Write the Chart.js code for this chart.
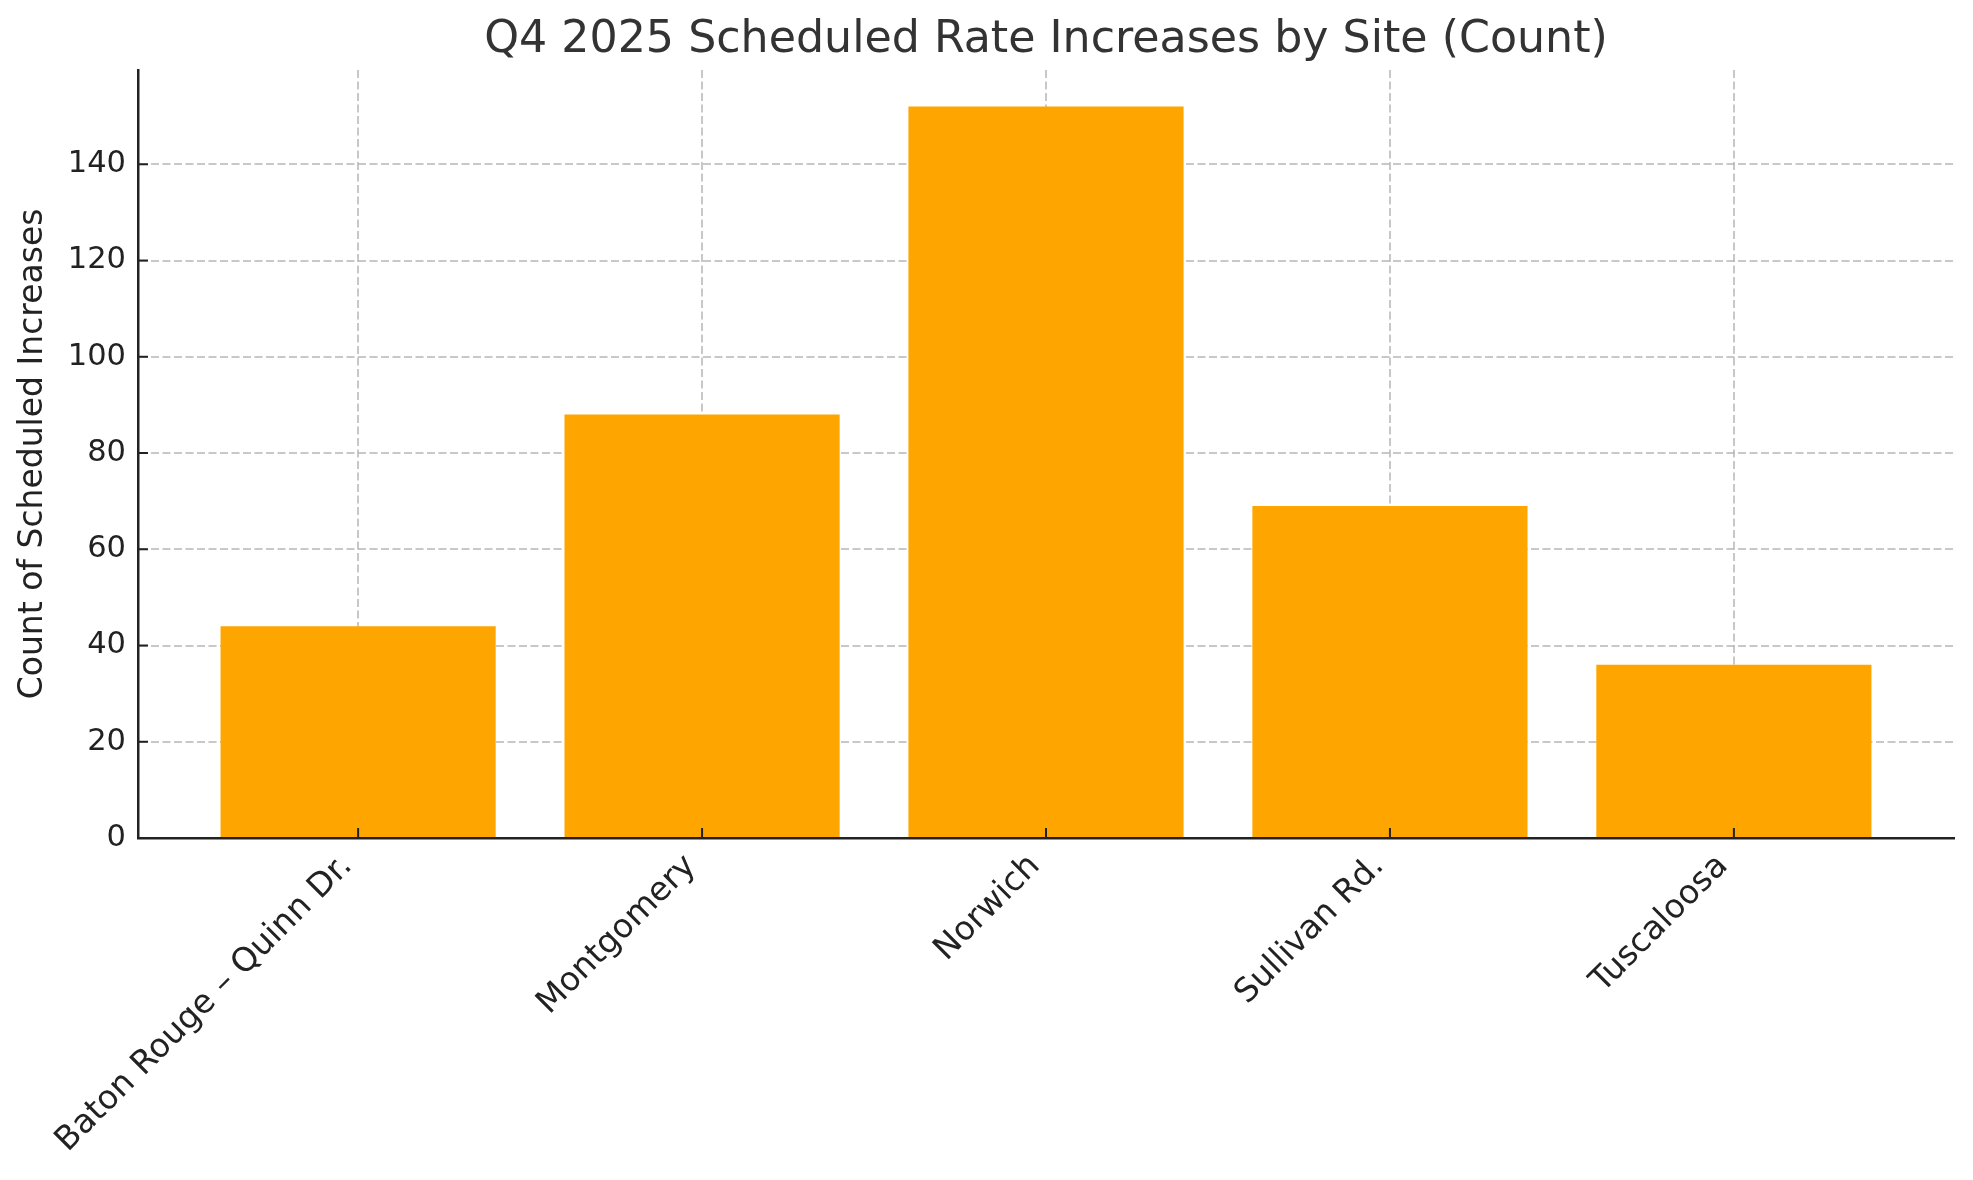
<!DOCTYPE html>
<html>
<head>
<meta charset="utf-8">
<script src="https://cdn.jsdelivr.net/npm/chart.js@4/dist/chart.umd.min.js"></script>
<style>
  html, body { margin: 0; padding: 0; background: #ffffff; }
  #wrap { width: 1973px; height: 1180px; position: relative; }
</style>
</head>
<body>
<div id="wrap"><canvas id="c" width="1973" height="1180"></canvas></div>
<script>
const chartTitle = "Q4 2025 Scheduled Rate Increases by Site (Count)";
const yAxisTitle = "Count of Scheduled Increases";
const categories = ["Baton Rouge – Quinn Dr.", "Montgomery", "Norwich", "Sullivan Rd.", "Tuscaloosa"];
const counts = [44, 88, 152, 69, 36];
const yTicks = [0, 20, 40, 60, 80, 100, 120, 140];
const yMax = 159.6;
const xMin = -0.64;
const xMax = 4.64;

const FONT = "'DejaVu Sans', sans-serif";
const gridColor = 'rgba(176,176,176,0.7)';

const inwardTicks = {
  id: 'inwardTicks',
  beforeDraw(chart) {
    // nudge rotated x labels so their top-right corner sits at the tick (matplotlib ha='right')
    const items = chart.scales.x.getLabelItems();
    items.forEach(it => {
      if (!it._nudged) {
        it.options.translation = [it.options.translation[0] - 11, it.options.translation[1] + 5];
        it._nudged = true;
      }
    });
  },
  afterDraw(chart) {
    const ctx = chart.ctx;
    const a = chart.chartArea;
    const xs = chart.scales.x, ys = chart.scales.y;
    ctx.save();
    ctx.strokeStyle = '#222222';
    ctx.lineWidth = 2;
    ys.ticks.forEach(t => {
      const p = ys.getPixelForValue(t.value);
      ctx.beginPath();
      ctx.moveTo(a.left, p);
      ctx.lineTo(a.left + 10, p);
      ctx.stroke();
    });
    xs.ticks.forEach(t => {
      const p = xs.getPixelForValue(t.value);
      ctx.beginPath();
      ctx.moveTo(p, a.bottom);
      ctx.lineTo(p, a.bottom - 10);
      ctx.stroke();
    });
    ctx.restore();
  }
};

new Chart(document.getElementById('c'), {
  type: 'bar',
  data: {
    datasets: [{
      data: counts.map((v, i) => ({ x: i, y: v })),
      backgroundColor: '#FFA500',
      borderWidth: 0,
      barPercentage: 0.8,
      categoryPercentage: 1.0
    }]
  },
  options: {
    responsive: false,
    animation: false,
    devicePixelRatio: 1,
    layout: { padding: { top: 0, right: 19, bottom: 0, left: 0 } },
    plugins: {
      legend: { display: false },
      tooltip: { enabled: false },
      title: {
        display: true,
        text: chartTitle,
        fullSize: false,
        color: '#333333',
        font: { family: FONT, size: 44.3, weight: 'normal', lineHeight: 1.2 },
        padding: { top: 14, bottom: 2.8 }
      }
    },
    scales: {
      x: {
        type: 'linear',
        min: xMin,
        max: xMax,
        offset: false,
        z: 1,
        afterBuildTicks(scale) {
          scale.ticks = categories.map((c, i) => ({ value: i }));
        },
        afterFit(scale) { scale.height = 342; },
        ticks: {
          autoSkip: false,
          minRotation: 45,
          maxRotation: 45,
          padding: 4,
          color: '#222222',
          font: { family: FONT, size: 33 },
          callback: (v) => categories[v]
        },
        grid: {
          display: true,
          offset: false,
          color: gridColor,
          lineWidth: 2,
          drawTicks: false
        },
        border: { display: true, color: '#222222', width: 2.5, dash: [8, 3.5] }
      },
      y: {
        min: 0,
        max: yMax,
        z: 1,
        afterBuildTicks(scale) {
          scale.ticks = yTicks.map(v => ({ value: v }));
        },
        afterFit(scale) { scale.width = 138; },
        ticks: {
          padding: 12,
          color: '#222222',
          font: { family: FONT, size: 30.5 }
        },
        grid: {
          display: true,
          color: gridColor,
          lineWidth: 2,
          drawTicks: false
        },
        border: { display: true, color: '#222222', width: 2.5, dash: [8, 3.5] },
        title: {
          display: true,
          text: yAxisTitle,
          color: '#222222',
          font: { family: FONT, size: 33, lineHeight: 1.2 },
          padding: { top: 14, bottom: 0 }
        }
      }
    }
  },
  plugins: [inwardTicks]
});
</script>
</body>
</html>
